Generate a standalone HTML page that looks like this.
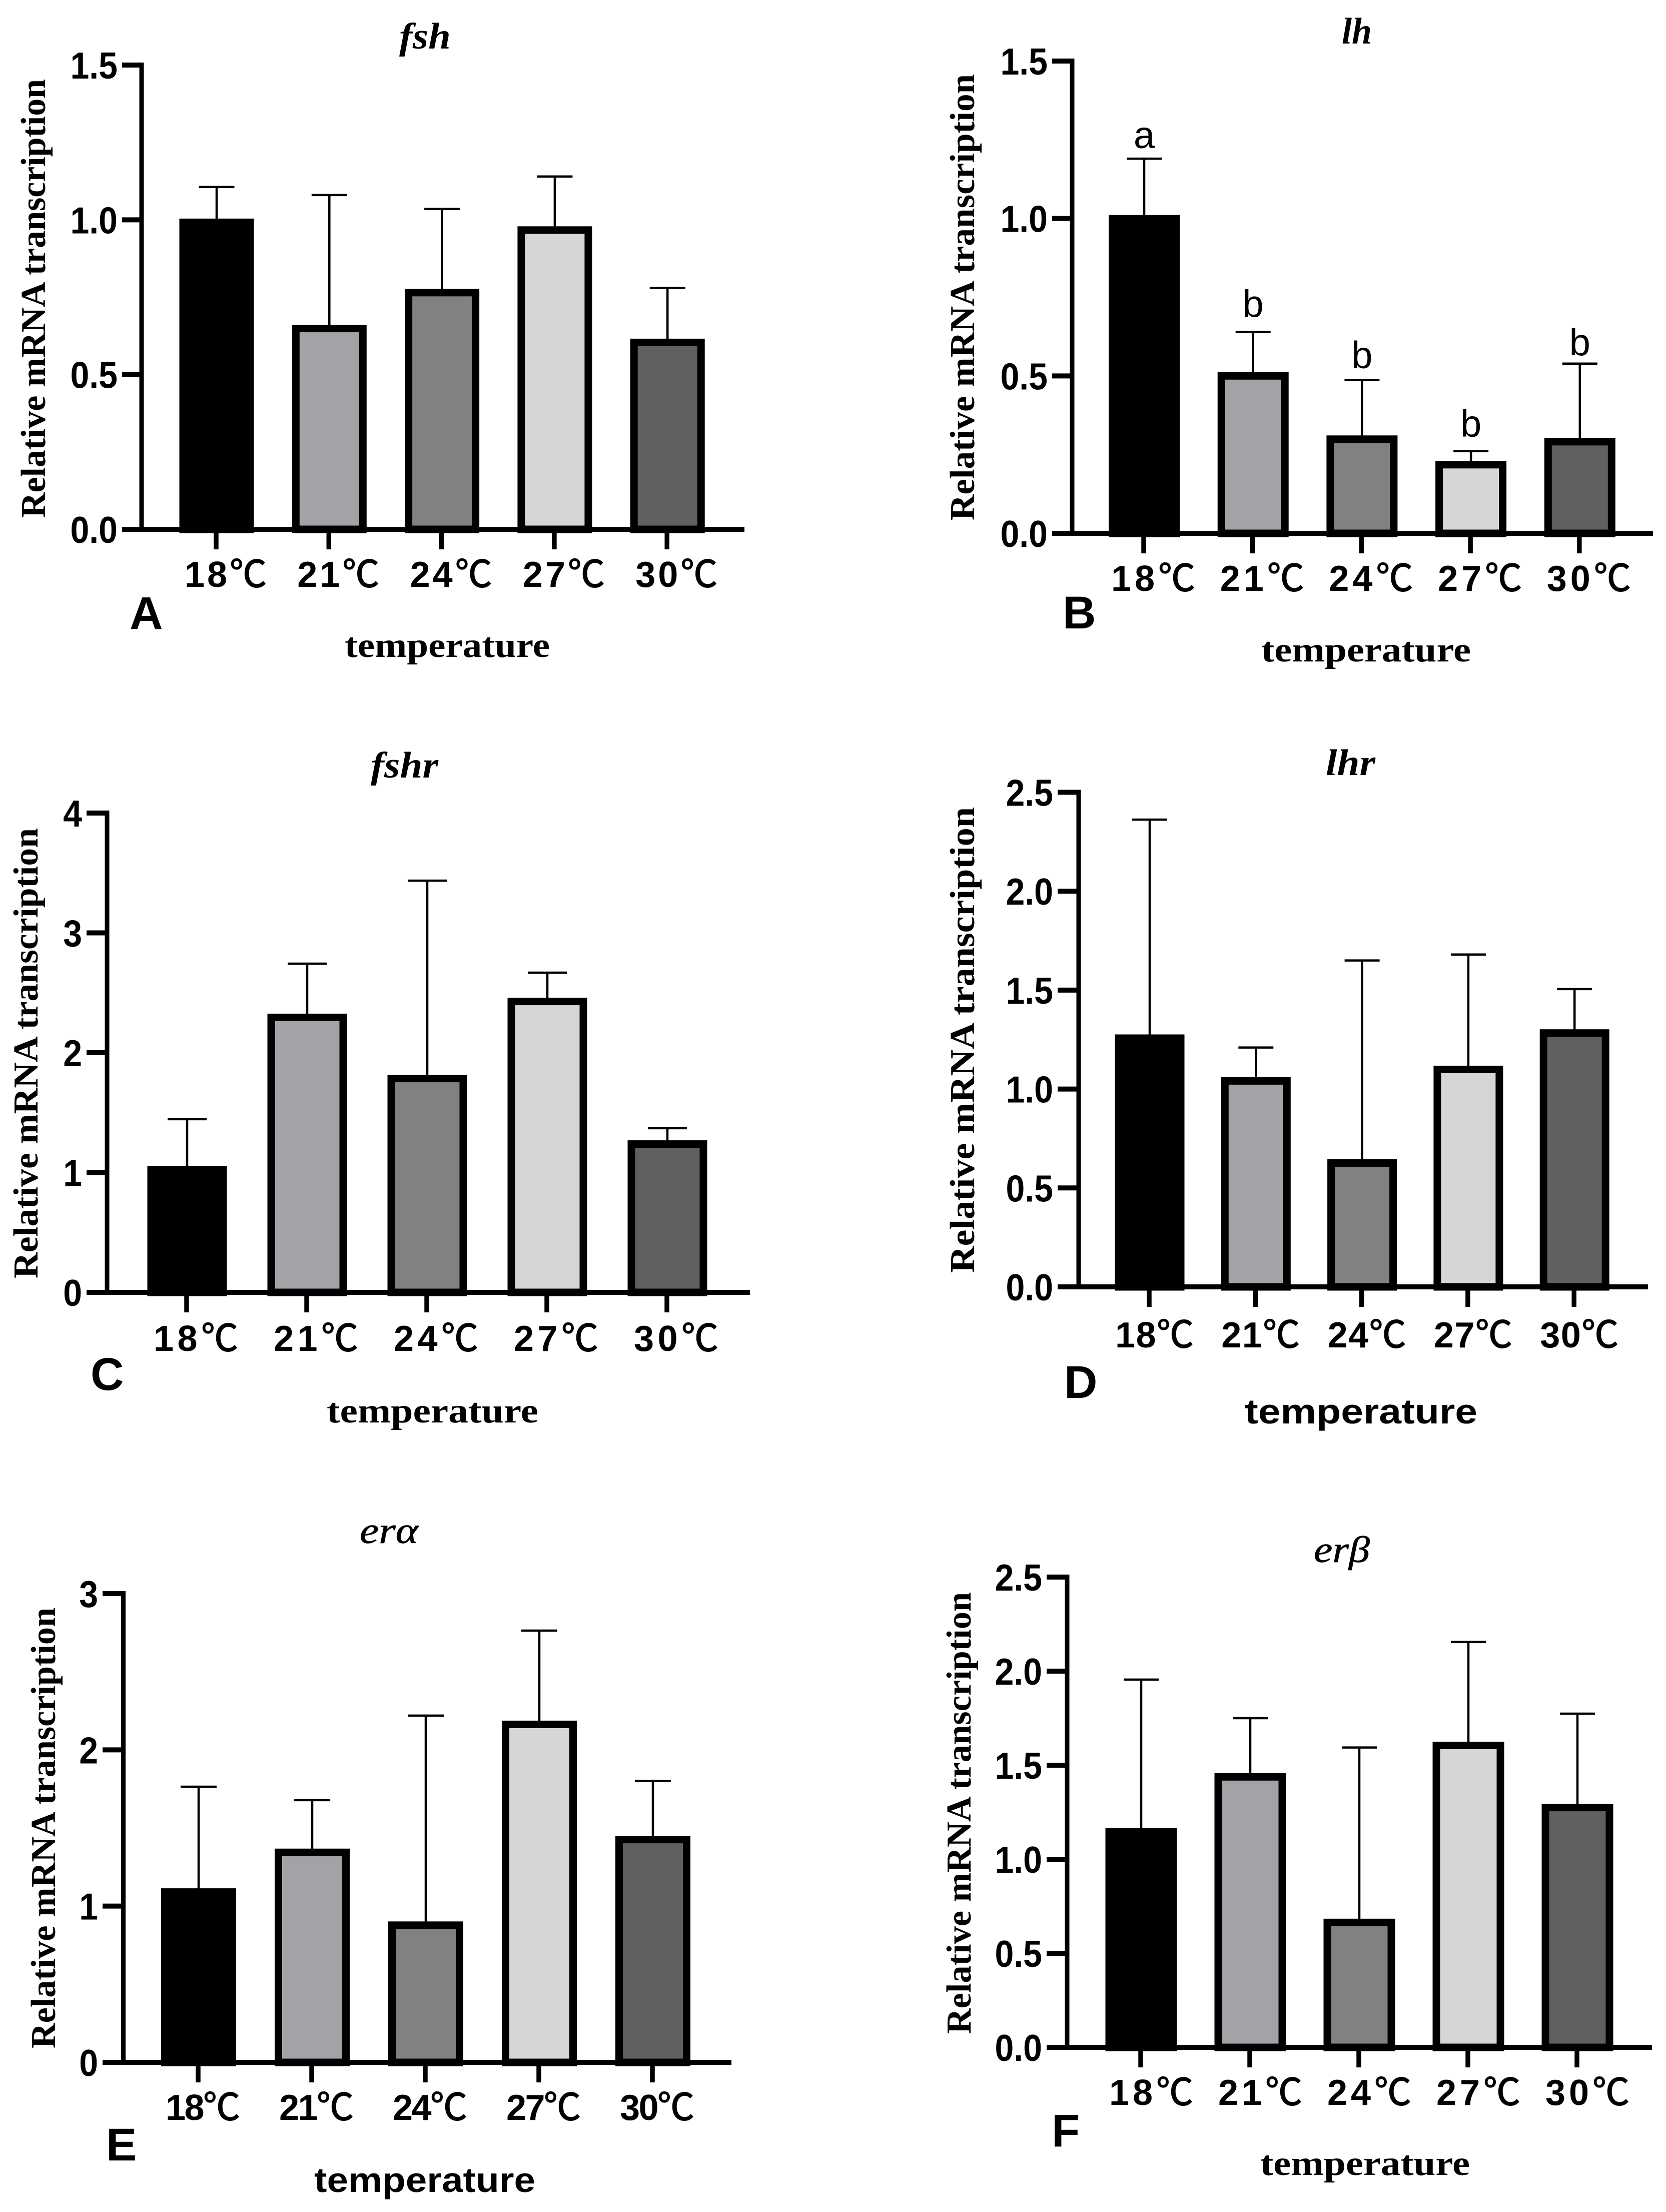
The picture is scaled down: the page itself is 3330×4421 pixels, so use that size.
<!DOCTYPE html>
<html lang="en">
<head>
<meta charset="utf-8">
<title>Relative mRNA transcription by temperature</title>
<style>
  html, body { margin: 0; padding: 0; background: #fff; }
  svg { display: block; }
  .title { font-family: "Liberation Serif", serif; font-style: italic; font-weight: 700; font-size: 74px; }
  .title-light { font-weight: 400; stroke: #000; stroke-width: 0.8px; }
  .ytitle { font-family: "Liberation Serif", serif; font-weight: 700; font-size: 70px; }
  .xtitle { font-family: "Liberation Serif", serif; font-weight: 700; font-size: 70px; }
  .xtitle-sans { font-family: "Liberation Sans", sans-serif; font-weight: 700; font-size: 70px; }
  .letter { font-family: "Liberation Sans", sans-serif; font-weight: 700; font-size: 92px; }
</style>
</head>
<body>
<svg id="figure" xmlns="http://www.w3.org/2000/svg" width="3330" height="4421" viewBox="0 0 3330 4421">
  <rect width="3330" height="4421" fill="#ffffff"/>

  <g id="panel-a">
    <text class="title" x="798" y="97" textLength="103" lengthAdjust="spacingAndGlyphs">fsh</text>
    <text class="ytitle" transform="translate(90,1035) rotate(-90)" textLength="877" lengthAdjust="spacingAndGlyphs">Relative mRNA transcription</text>
    <text class="xtitle" x="689" y="1313" textLength="410" lengthAdjust="spacingAndGlyphs">temperature</text>
    <text class="letter" x="259" y="1257">A</text>
  </g>

  <g id="panel-b">
    <text class="title" x="2682" y="87" textLength="60" lengthAdjust="spacingAndGlyphs">lh</text>
    <text class="ytitle" transform="translate(1947,1040) rotate(-90)" textLength="892" lengthAdjust="spacingAndGlyphs">Relative mRNA transcription</text>
    <text class="xtitle" x="2521" y="1322" textLength="419" lengthAdjust="spacingAndGlyphs">temperature</text>
    <text class="letter" x="2124" y="1256">B</text>
  </g>

  <g id="panel-c">
    <text class="title" x="741" y="1554" textLength="135" lengthAdjust="spacingAndGlyphs">fshr</text>
    <text class="ytitle" transform="translate(75,2555) rotate(-90)" textLength="900" lengthAdjust="spacingAndGlyphs">Relative mRNA transcription</text>
    <text class="xtitle" x="653" y="2843" textLength="423" lengthAdjust="spacingAndGlyphs">temperature</text>
    <text class="letter" x="181" y="2778">C</text>
  </g>

  <g id="panel-d">
    <text class="title" x="2650" y="1549" textLength="99" lengthAdjust="spacingAndGlyphs">lhr</text>
    <text class="ytitle" transform="translate(1947,2544) rotate(-90)" textLength="931" lengthAdjust="spacingAndGlyphs">Relative mRNA transcription</text>
    <text class="xtitle-sans" x="2488" y="2845" textLength="465" lengthAdjust="spacingAndGlyphs">temperature</text>
    <text class="letter" x="2127" y="2794">D</text>
  </g>

  <g id="panel-e">
    <text class="title title-light" x="719" y="3084" textLength="117" lengthAdjust="spacingAndGlyphs">erα</text>
    <text class="ytitle" transform="translate(110,4094) rotate(-90)" textLength="881" lengthAdjust="spacingAndGlyphs">Relative mRNA transcription</text>
    <text class="xtitle-sans" x="628" y="4381" textLength="442" lengthAdjust="spacingAndGlyphs">temperature</text>
    <text class="letter" x="212" y="4318">E</text>
  </g>

  <g id="panel-f">
    <text class="title title-light" x="2626" y="3122" textLength="112" lengthAdjust="spacingAndGlyphs">erβ</text>
    <text class="ytitle" transform="translate(1940,4065) rotate(-90)" textLength="883" lengthAdjust="spacingAndGlyphs">Relative mRNA transcription</text>
    <text class="xtitle" x="2519" y="4347" textLength="419" lengthAdjust="spacingAndGlyphs">temperature</text>
    <text class="letter" x="2102" y="4290">F</text>
  </g>
</svg>

<script>
const categories = ['18', '21', '24', '27', '30'];

const fshTicks = ['0.0', '0.5', '1.0', '1.5'];
const fshMeans = [1.004, 0.661, 0.777, 0.979, 0.616];
const fshErrorTops = [1.106, 1.08, 1.035, 1.14, 0.78];

const lhTicks = ['0.0', '0.5', '1.0', '1.5'];
const lhMeans = [1.011, 0.512, 0.311, 0.230, 0.303];
const lhErrorTops = [1.190, 0.640, 0.487, 0.261, 0.539];
const lhSignificance = ['a', 'b', 'b', 'b', 'b'];

const fshrTicks = ['0', '1', '2', '3', '4'];
const fshrMeans = [1.056, 2.326, 1.816, 2.459, 1.269];
const fshrErrorTops = [1.445, 2.743, 3.436, 2.668, 1.370];

const lhrTicks = ['0.0', '0.5', '1.0', '1.5', '2.0', '2.5'];
const lhrMeans = [1.276, 1.060, 0.645, 1.118, 1.302];
const lhrErrorTops = [2.362, 1.210, 1.650, 1.680, 1.505];

const eraTicks = ['0', '1', '2', '3'];
const eraMeans = [1.114, 1.368, 0.902, 2.187, 1.450];
const eraErrorTops = [1.764, 1.678, 2.219, 2.763, 1.801];

const erbTicks = ['0.0', '0.5', '1.0', '1.5', '2.0', '2.5'];
const erbMeans = [1.165, 1.458, 0.684, 1.625, 1.295];
const erbErrorTops = [1.955, 1.750, 1.594, 2.155, 1.774];

const barFills = ['#000000', '#a3a2a7', '#818181', '#d6d6d6', '#606060'];

const SVG_NS = 'http://www.w3.org/2000/svg';

function make(parent, tag) {
  const el = document.createElementNS(SVG_NS, tag);
  parent.appendChild(el);
  return el;
}

function drawLine(parent, x1, y1, x2, y2, width, name) {
  const line = make(parent, 'line');
  line.setAttribute('x1', x1);
  line.setAttribute('y1', y1);
  line.setAttribute('x2', x2);
  line.setAttribute('y2', y2);
  line.setAttribute('stroke', '#000');
  line.setAttribute('stroke-width', width);
  
  
  return line;
}

function tickTextWidth(s) {
  let w = 0;
  for (const ch of s) {
    w += ch === '.' ? 0.278 : 0.556;
  }
  return w * 68;
}

function drawPanel(cfg) {
  const g = document.getElementById(cfg.id);
  const ticks = cfg.ticks.map(Number);
  const yMax = ticks[ticks.length - 1];
  const yScale = v => cfg.y0 - (v / yMax) * (cfg.y0 - cfg.yTop);
  const xScale = i => cfg.cx0 + i * cfg.step;

  cfg.means.forEach((mean, i) => {
    const cx = xScale(i);
    const top = yScale(mean);
    const errTop = yScale(cfg.errorTops[i]);

    drawLine(g, cx, errTop, cx, top + 4, 4.5, 'error-bar-stem');
    drawLine(g, cx - cfg.capW / 2, errTop, cx + cfg.capW / 2, errTop, 4.5, 'error-bar-cap');

    const bar = make(g, 'rect');
    bar.setAttribute('x', cx - cfg.barW / 2 + 7.5);
    bar.setAttribute('y', top + 7.5);
    bar.setAttribute('width', cfg.barW - 15);
    bar.setAttribute('height', Math.max(0, cfg.y0 - top - 7.5));
    bar.setAttribute('fill', barFills[i]);
    bar.setAttribute('stroke', '#000');
    bar.setAttribute('stroke-width', 15);
    
    

    if (cfg.significance) {
      const sig = make(g, 'text');
      sig.setAttribute('x', cx);
      sig.setAttribute('y', errTop - cfg.sigGaps[i]);
      sig.setAttribute('text-anchor', 'middle');
      sig.setAttribute('font-family', '"Liberation Sans", sans-serif');
      sig.setAttribute('font-size', '76');
      
      
      sig.textContent = cfg.significance[i];
    }

    drawLine(g, cx - 1, cfg.y0, cx - 1, cfg.y0 + 40, 9.5, 'x-axis-tick');

    const label = make(g, 'text');
    label.setAttribute('x', cx + cfg.labelDx);
    label.setAttribute('y', cfg.labelY);
    label.setAttribute('text-anchor', 'middle');
    label.setAttribute('font-family', '"Liberation Sans", sans-serif');
    label.setAttribute('font-weight', '700');
    label.setAttribute('font-size', '72');
    label.setAttribute('textLength', cfg.labelW);
    label.setAttribute('lengthAdjust', 'spacing');
    
    
    label.appendChild(document.createTextNode(categories[i]));
    const unit = make(label, 'tspan');
    unit.setAttribute('font-family', '"Noto Sans CJK SC", sans-serif');
    unit.setAttribute('font-weight', '400');
    unit.setAttribute('font-size', '74');
    unit.setAttribute('stroke', '#000');
    unit.setAttribute('stroke-width', '1.5');
    unit.textContent = '℃';
  });

  drawLine(g, cfg.axisX, cfg.yTop - 5, cfg.axisX, cfg.y0 + 5, 9, 'y-axis-line');
  drawLine(g, cfg.tickLeft, cfg.y0, cfg.right, cfg.y0, 10, 'x-axis-line');

  cfg.ticks.forEach((tickText, i) => {
    const y = yScale(ticks[i]);
    if (i > 0) {
      drawLine(g, cfg.tickLeft, y, cfg.axisX, y, 10, 'y-axis-tick');
    }

    const text = make(g, 'text');
    text.setAttribute('x', cfg.tickLeft - 9);
    text.setAttribute('y', y + 27);
    text.setAttribute('text-anchor', 'end');
    text.setAttribute('font-family', '"Liberation Sans", sans-serif');
    text.setAttribute('font-weight', '700');
    text.setAttribute('font-size', '75');
    text.setAttribute('textLength', tickTextWidth(tickText));
    text.setAttribute('lengthAdjust', 'spacingAndGlyphs');
    
    
    text.textContent = tickText;
  });
}

drawPanel({ id: 'panel-a', ticks: fshTicks, means: fshMeans, errorTops: fshErrorTops,
  axisX: 283, y0: 1058, yTop: 130, tickLeft: 244, right: 1488, cx0: 433, step: 225.3,
  barW: 149, capW: 71, labelDx: 18, labelY: 1173, labelW: 164 });

drawPanel({ id: 'panel-b', ticks: lhTicks, means: lhMeans, errorTops: lhErrorTops,
  significance: lhSignificance, sigGaps: [21, 30, 24, 29, 17],
  axisX: 2143, y0: 1066, yTop: 122, tickLeft: 2103, right: 3304, cx0: 2287, step: 217.7,
  barW: 142, capW: 70, labelDx: 18, labelY: 1181, labelW: 168 });

drawPanel({ id: 'panel-c', ticks: fshrTicks, means: fshrMeans, errorTops: fshrErrorTops,
  axisX: 214, y0: 2583, yTop: 1625, tickLeft: 173, right: 1499, cx0: 374, step: 240,
  barW: 159, capW: 78, labelDx: 17.5, labelY: 2700, labelW: 169 });

drawPanel({ id: 'panel-d', ticks: lhrTicks, means: lhrMeans, errorTops: lhrErrorTops,
  axisX: 2156, y0: 2572, yTop: 1583.5, tickLeft: 2114, right: 3294, cx0: 2298, step: 212.3,
  barW: 139, capW: 70, labelDx: 9.5, labelY: 2693, labelW: 157 });

drawPanel({ id: 'panel-e', ticks: eraTicks, means: eraMeans, errorTops: eraErrorTops,
  axisX: 246.5, y0: 4122, yTop: 3185, tickLeft: 205, right: 1462, cx0: 397, step: 227,
  barW: 150, capW: 72, labelDx: 8.5, labelY: 4237, labelW: 149 });

drawPanel({ id: 'panel-f', ticks: erbTicks, means: erbMeans, errorTops: erbErrorTops,
  axisX: 2133, y0: 4092, yTop: 3152, tickLeft: 2092, right: 3302, cx0: 2281, step: 218,
  barW: 143, capW: 70, labelDx: 20, labelY: 4207, labelW: 168 });
</script>
</body>
</html>
